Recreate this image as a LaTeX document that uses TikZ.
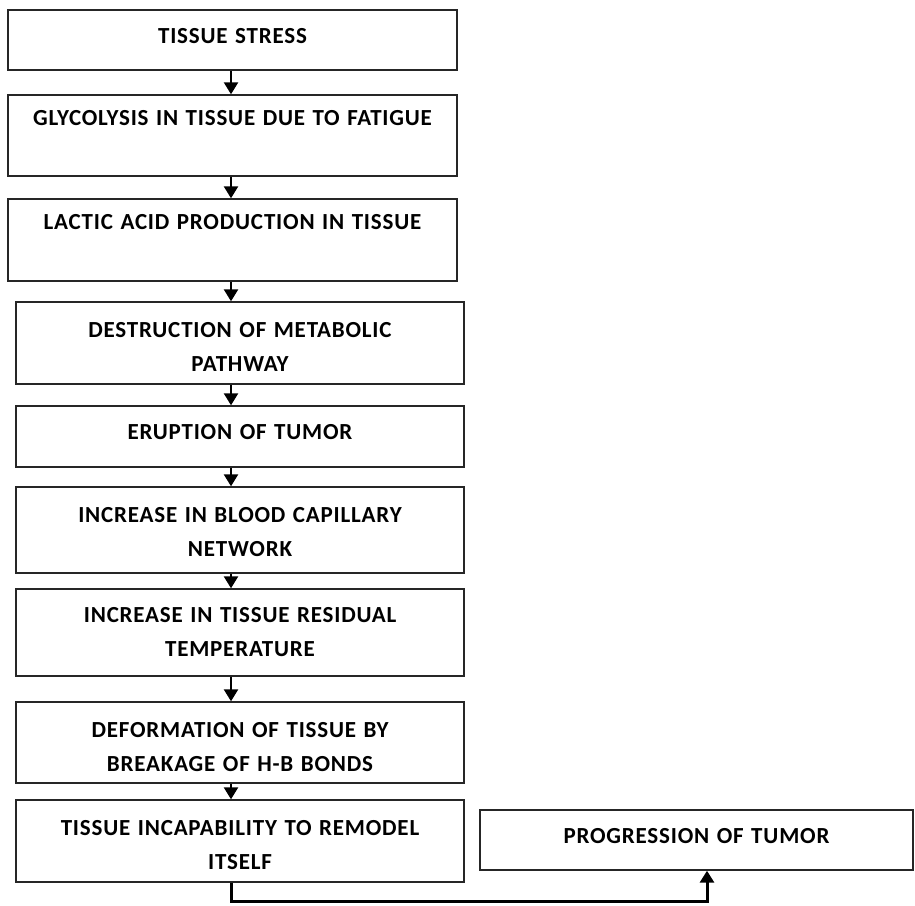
\documentclass[tikz,border=0pt]{standalone}
\usepackage{fontspec}
\setmainfont{Carlito}[LetterSpace=3.5,WordSpace=1.25]
\usetikzlibrary{positioning,arrows.meta}

\begin{document}
\begin{tikzpicture}[x=1pt,y=-1pt,
  box/.style={draw=black!85,line width=1.4pt,rectangle,inner sep=0pt},
  txt/.style={inner sep=0pt,align=center,font=\fontsize{23}{34}\selectfont\bfseries},
  flow/.style={line width=2.4pt,-{Triangle[width=14pt,length=12pt]}}]
\useasboundingbox (0,0) rectangle (915,905);
\coordinate (ax) at (231,0);
\coordinate (tx) at (707,0);
% boxes
\node[box,minimum width=449pt,minimum height=60pt] (b1) at (232.5,40) {};
\node[box,minimum width=449pt,minimum height=81pt] (b2) at (232.5,135.5) {};
\node[box,minimum width=449pt,minimum height=82pt] (b3) at (232.5,240) {};
\node[box,minimum width=448pt,minimum height=82pt] (b4) at (240,343) {};
\node[box,minimum width=448pt,minimum height=61pt] (b5) at (240,436.5) {};
\node[box,minimum width=448pt,minimum height=86pt] (b6) at (240,530) {};
\node[box,minimum width=448pt,minimum height=87pt] (b7) at (240,632.5) {};
\node[box,minimum width=448pt,minimum height=81pt] (b8) at (240,742.5) {};
\node[box,minimum width=448pt,minimum height=82pt] (b9) at (240,841) {};
\node[box,minimum width=433pt,minimum height=60pt] (b10) at (696.5,840) {};
% texts
\node[txt,below=19pt of b1.north] (t1) {TISSUE STRESS};
\node[txt,below=16pt of b2.north] (t2) {GLYCOLYSIS IN TISSUE DUE TO FATIGUE};
\node[txt,below=16pt of b3.north] (t3) {LACTIC ACID PRODUCTION IN TISSUE};
\node[txt,below=21pt of b4.north] (t4) {DESTRUCTION OF METABOLIC\\PATHWAY};
\node[txt,below=19pt of b5.north] (t5) {ERUPTION OF TUMOR};
\node[txt,below=21pt of b6.north] (t6) {INCREASE IN BLOOD CAPILLARY\\NETWORK};
\node[txt,below=19pt of b7.north] (t7) {INCREASE IN TISSUE RESIDUAL\\TEMPERATURE};
\node[txt,below=21pt of b8.north] (t8) {DEFORMATION OF TISSUE BY\\BREAKAGE OF H-B BONDS};
\node[txt,below=21pt of b9.north] (t9) {TISSUE INCAPABILITY TO REMODEL\\ITSELF};
\node[txt,below=19pt of b10.north] (t10) {PROGRESSION OF TUMOR};
% arrows
\foreach \a/\b in {b1/b2,b2/b3,b3/b4,b4/b5,b5/b6,b6/b7,b7/b8,b8/b9}
  \draw[flow] (\a.south -| ax) -- (\b.north -| ax);
\draw[flow,line width=3pt] (b9.south -| ax) -- (231,901) -| (b10.south -| tx);
\end{tikzpicture}
\end{document}
